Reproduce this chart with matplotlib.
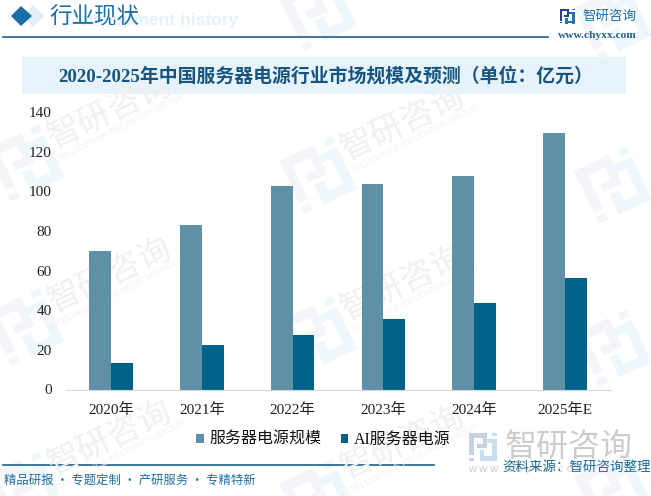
import matplotlib
matplotlib.use('Agg')
import matplotlib.pyplot as plt
from matplotlib.patches import Polygon, Rectangle
from matplotlib.transforms import Affine2D
import numpy as np

plt.rcParams['font.family'] = ['Liberation Serif', 'Noto Sans CJK SC', 'DejaVu Sans']

years = ['2020年', '2021年', '2022年', '2023年', '2024年', '2025年E']
server_power = [70, 83, 102.7, 103.7, 107.8, 129.4]
ai_power = [13.6, 22.2, 27.7, 35.7, 43.8, 56.4]
series_names = ['服务器电源规模', 'AI服务器电源']
footer = '精品研报 · 专题定制 · 产研服务 · 专精特新'

W, H = 651, 496
fig = plt.figure(figsize=(W / 100, H / 100), dpi=100)

# 背景层，坐标直接用像素
bg = fig.add_axes([0, 0, 1, 1], zorder=0)
bg.set_xlim(0, W)
bg.set_ylim(H, 0)
bg.axis('off')


def logo(ax, cx, cy, size, color1, color2, angle=0):
    # 简化的 logo，左右两部分
    tr = Affine2D().scale(size).rotate_deg(angle).translate(cx, cy) + ax.transData
    left = [(-0.5, -0.5, 0.65, 0.17), (-0.5, -0.5, 0.17, 0.8), (-0.5, 0.38, 0.17, 0.12),
            (0.0, -0.5, 0.15, 0.55), (-0.2, -0.1, 0.35, 0.15)]
    right = [(0.33, -0.5, 0.17, 0.12), (0.33, -0.3, 0.17, 0.8), (-0.12, 0.33, 0.62, 0.17),
             (-0.12, 0.12, 0.17, 0.38), (0.1, -0.3, 0.23, 0.14)]
    for x, y, w, h in left:
        ax.add_patch(Rectangle((x, y), w, h, transform=tr, fc=color1, ec='none'))
    for x, y, w, h in right:
        ax.add_patch(Rectangle((x, y), w, h, transform=tr, fc=color2, ec='none'))


# 水印
for mx, my in [(25, 163), (25, 327), (25, 490), (318, 12), (318, 175), (318, 335), (318, 498),
               (613, 22), (613, 185), (613, 348), (613, 490)]:
    logo(bg, mx, my, 58, '#f3f5f9', '#eef7fb', angle=-25)
for mx, my in [(110, 111), (110, 275), (110, 438), (403, 123), (403, 283), (403, 442)]:
    bg.text(mx, my, '智研咨询', fontsize=24, color='#f0f0f0', rotation=25, ha='center', va='center',
            family='Noto Sans CJK SC')
    bg.text(mx + 7, my + 18, 'INTELLIGENCE RESEARCH GROUP', fontsize=6.4, color='#f2f2f2', rotation=27,
            ha='center', va='center', family='Liberation Sans')

# 顶部
bg.add_patch(Polygon([(33, 5), (44, 16), (33, 27), (22, 16)], fc='#cfe2f0', ec='none', alpha=0.6))
bg.add_patch(Polygon([(21, 6), (32, 16), (21, 26), (11, 16)], fc='#1a6ea8', ec='none'))
bg.text(66, 21, 'Development history', fontsize=12.5, fontweight='bold', color='#e3f1fb', va='center',
        family='Liberation Sans')
bg.text(49, 17, '行业现状', fontsize=16.2, color='#1c6fa3', va='center', family='Noto Sans CJK SC')
bg.plot([3, 548], [37, 37], color='#1f5f8b', lw=1.2)
logo(bg, 567, 16, 15, '#27408f', '#1f78b4')
bg.text(582, 16, '智研咨询', fontsize=9.7, color='#1f6f9f', va='center', family='Noto Sans CJK SC')
bg.text(558, 36, 'www.chyxx.com', fontsize=8.2, color='#1f5f8b', va='center', fontweight='bold')

# 标题
bg.add_patch(Rectangle((22, 57), 604, 37, fc='#e6f3fb', ec='none'))
bg.text(326, 76, '2020-2025年中国服务器电源行业市场规模及预测（单位：亿元）', fontsize=13.6, fontweight='bold',
        color='#17557f', ha='center', va='center')

# 底部
bg.plot([3, 434], [465, 465], color='#1f5f8b', lw=1.2)
bg.text(4, 480, footer, fontsize=8.9, color='#1f6f9f', va='center', family='Noto Sans CJK SC')
logo(bg, 483, 447, 28, '#c6d2e2', '#c9deee')
bg.text(505, 447, '智研咨询', fontsize=23, color='#cccccc', va='center', family='Noto Sans CJK SC')
bg.text(468, 469, 'w w w . c h y x x . c o m', fontsize=8, color='#cccccc', va='center', family='Liberation Sans')
bg.text(502, 467, '资料来源：智研咨询整理', fontsize=9.7, color='#1a6a96', va='center', family='Noto Sans CJK SC')

# 主图
ax = fig.add_axes([65.5 / W, 1 - 389.5 / H, 545 / W, 277.5 / H], zorder=1)
ax.patch.set_alpha(0)
x = np.arange(len(years))
bar_w = 0.24
b1 = ax.bar(x - bar_w / 2, server_power, bar_w, color='#5e90a8', label=series_names[0])
b2 = ax.bar(x + bar_w / 2, ai_power, bar_w, color='#006286', label=series_names[1])
ax.set_xlim(-0.5, len(years) - 0.5)
ax.set_ylim(0, 140)
ax.set_yticks(range(0, 141, 20))
ax.set_xticks(x)
ax.set_xticklabels(years)
ax.tick_params(axis='both', length=0, labelsize=11, colors='#222222')
ax.tick_params(axis='x', pad=10)
ax.tick_params(axis='y', pad=10)
for s in ['top', 'right', 'left']:
    ax.spines[s].set_visible(False)
ax.spines['bottom'].set_color('#d9d9d9')

leg = fig.legend(handles=[b1, b2], loc='center', bbox_to_anchor=(323.5 / W, 1 - 440 / H), ncol=2, frameon=False,
                 fontsize=11.5, handlelength=0.45, handleheight=0.5, handletextpad=0.35, columnspacing=1.25,
                 labelcolor='#111111')

fig.savefig('out.png', dpi=100)
